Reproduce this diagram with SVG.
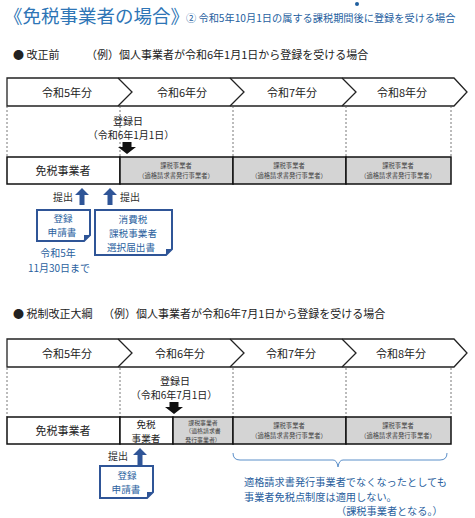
<svg xmlns="http://www.w3.org/2000/svg" width="475" height="518" viewBox="0 0 475 518">
<style>
text{font-family:"Noto Sans CJK JP","Noto Sans",sans-serif;fill:#222}
.t{font-size:11px}
.m{font-size:10px}
.d{font-size:9.6px}
.c{text-anchor:middle}
.s{font-size:6.3px;fill:#444}
.s3{font-size:5.9px;fill:#444}
.b{fill:#2a5f9e}
.band{fill:#fff;stroke:#222;stroke-width:1.3}
.chev{fill:none;stroke:#222;stroke-width:1.3}
.dash{stroke:#555;stroke-width:0.8;stroke-dasharray:2,2}
.wbox{fill:#fff;stroke:#111;stroke-width:1.5}
.gbox{fill:#d4d4d4;stroke:#111;stroke-width:1.5}
.doc{fill:#fff;stroke:#2f5597;stroke-width:2}
.up{fill:#2f5597}
.down{fill:#111}
</style>
<defs>
<path id="uparrow" d="M0,0 L7,7 L2.5,7 L2.5,17 L-2.5,17 L-2.5,7 L-7,7 Z"/>
<path id="downarrow" d="M-4.5,0 H4.5 V5 H9 L0,12 L-9,5 H-4.5 Z"/>
</defs>

<g id="title">
<text x="4" y="23" style="font-size:18.5px;fill:#2e75b6">《免税事業者の場合》</text>
<text x="186" y="22" style="font-size:10.2px;fill:#1f5f9f">② 令和5年10月1日の属する課税期間後に登録を受ける場合</text>
<circle cx="357" cy="4" r="2" fill="#1f5f9f"/>
</g>

<g id="section1-heading">
<text x="13" y="59" class="t">● 改正前</text>
<text x="86" y="59" class="t">（例）個人事業者が令和6年1月1日から登録を受ける場合</text>
</g>

<g id="band1">
<path class="band" d="M7,78 H454 L467,92 L454,106 H7 Z"/>
<path class="chev" d="M118,78 L132,92 L118,106 M230,78 L244,92 L230,106 M342,78 L356,92 L342,106"/>
<text x="67" y="97" class="t c">令和5年分</text>
<text x="182" y="97" class="t c">令和6年分</text>
<text x="292" y="97" class="t c">令和7年分</text>
<text x="402" y="97" class="t c">令和8年分</text>
</g>

<g id="connectors">
<path class="dash" d="M7,106 V157 M120,106 V157 M233,106 V157 M346,106 V157 M451,106 V157"/>
<path class="dash" d="M7,368 V417 M120,368 V417 M233,368 V417 M346,368 V417 M451,368 V417"/>
<use href="#downarrow" class="down" x="127" y="142"/>
<use href="#uparrow" class="up" x="82" y="188"/>
<use href="#uparrow" class="up" x="110" y="188"/>
<use href="#downarrow" class="down" x="174" y="402"/>
<use href="#uparrow" class="up" x="140" y="448"/>
<path d="M233,453 Q233,460 240,460 H333 Q337,460 338,467 Q339,460 343,460 H440 Q447,460 447,453" fill="none" stroke="#5b8fc9" stroke-width="1"/>
</g>

<g id="regdate1">
<text x="128" y="124.5" class="m c">登録日</text>
<text x="131" y="139" class="m c">（令和6年1月1日）</text>
</g>

<g id="bars1">
<rect class="wbox" x="7" y="157" width="113" height="27"/>
<text x="63" y="175" class="t c">免税事業者</text>
<rect class="gbox" x="120" y="157" width="113" height="27"/>
<text x="176" y="168" class="s c">課税事業者</text>
<text x="176" y="177.5" class="s c">（適格請求書発行事業者）</text>
<rect class="gbox" x="233" y="157" width="113" height="27"/>
<text x="289" y="168" class="s c">課税事業者</text>
<text x="289" y="177.5" class="s c">（適格請求書発行事業者）</text>
<rect class="gbox" x="346" y="157" width="105" height="27"/>
<text x="398" y="168" class="s c">課税事業者</text>
<text x="398" y="177.5" class="s c">（適格請求書発行事業者）</text>
</g>

<g id="submit1">
<text x="53" y="201" class="m" style="fill:#333">提出</text>
<text x="120" y="201" class="m" style="fill:#333">提出</text>
</g>

<g id="doc1">
<path class="doc" d="M37,210 H90 V235 L84,241 H37 Z"/>
<path d="M90,235 L84,241 L84,235 Z" fill="#2f5597"/>
<text x="63" y="222" class="d c b">登録</text>
<text x="62" y="236" class="d c b">申請書</text>
</g>

<g id="doc2">
<path class="doc" d="M95,210 H172 V249 L166,255 H95 Z"/>
<path d="M172,249 L166,255 L166,249 Z" fill="#2f5597"/>
<text x="133" y="223" class="d c b">消費税</text>
<text x="133" y="237" class="d c b">課税事業者</text>
<text x="131" y="251" class="d c b">選択届出書</text>
</g>

<g id="deadline">
<text x="58" y="257" class="m c b">令和5年</text>
<text x="59" y="271.5" class="m c b">11月30日まで</text>
</g>

<g id="section2-heading">
<text x="13" y="318" class="t">● 税制改正大綱</text>
<text x="103" y="318" class="t">（例）個人事業者が令和6年7月1日から登録を受ける場合</text>
</g>

<g id="band2">
<path class="band" d="M7,339 H454 L467,353 L454,367 H7 Z"/>
<path class="chev" d="M118,339 L132,353 L118,367 M230,339 L244,353 L230,367 M342,339 L356,353 L342,367"/>
<text x="67" y="358" class="t c">令和5年分</text>
<text x="180" y="358" class="t c">令和6年分</text>
<text x="291" y="358" class="t c">令和7年分</text>
<text x="401" y="358" class="t c">令和8年分</text>
</g>

<g id="regdate2">
<text x="175" y="384.5" class="m c">登録日</text>
<text x="174" y="399" class="m c">（令和6年7月1日）</text>
</g>

<g id="bars2">
<rect class="wbox" x="7" y="417" width="113" height="27"/>
<text x="63" y="435" class="t c">免税事業者</text>
<rect class="wbox" x="120" y="417" width="53" height="27"/>
<text x="146" y="428" class="d c">免税</text>
<text x="146" y="441.6" class="d c">事業者</text>
<rect class="gbox" x="173" y="417" width="60" height="27"/>
<text x="203" y="424.5" class="s3 c">課税事業者</text>
<text x="203" y="433.2" class="s3 c">（適格請求書</text>
<text x="203" y="441.9" class="s3 c">発行事業者）</text>
<rect class="gbox" x="233" y="417" width="113" height="27"/>
<text x="289" y="428" class="s c">課税事業者</text>
<text x="289" y="437.5" class="s c">（適格請求書発行事業者）</text>
<rect class="gbox" x="346" y="417" width="105" height="27"/>
<text x="398" y="428" class="s c">課税事業者</text>
<text x="398" y="437.5" class="s c">（適格請求書発行事業者）</text>
</g>

<g id="submit2">
<text x="108" y="460" class="m" style="fill:#333">提出</text>
</g>

<g id="doc3">
<path class="doc" d="M100,466 H153 V492 L147,498 H100 Z"/>
<path d="M153,492 L147,498 L147,492 Z" fill="#2f5597"/>
<text x="127" y="479" class="d c b">登録</text>
<text x="126" y="493" class="d c b">申請書</text>
</g>

<g id="note">
<text x="244" y="486" class="b" style="font-size:10.2px">適格請求書発行事業者でなくなったとしても</text>
<text x="244" y="500.8" class="b" style="font-size:10.2px">事業者免税点制度は適用しない。</text>
<text x="336" y="515" class="b" style="font-size:10.2px">（課税事業者となる。）</text>
</g>
</svg>
